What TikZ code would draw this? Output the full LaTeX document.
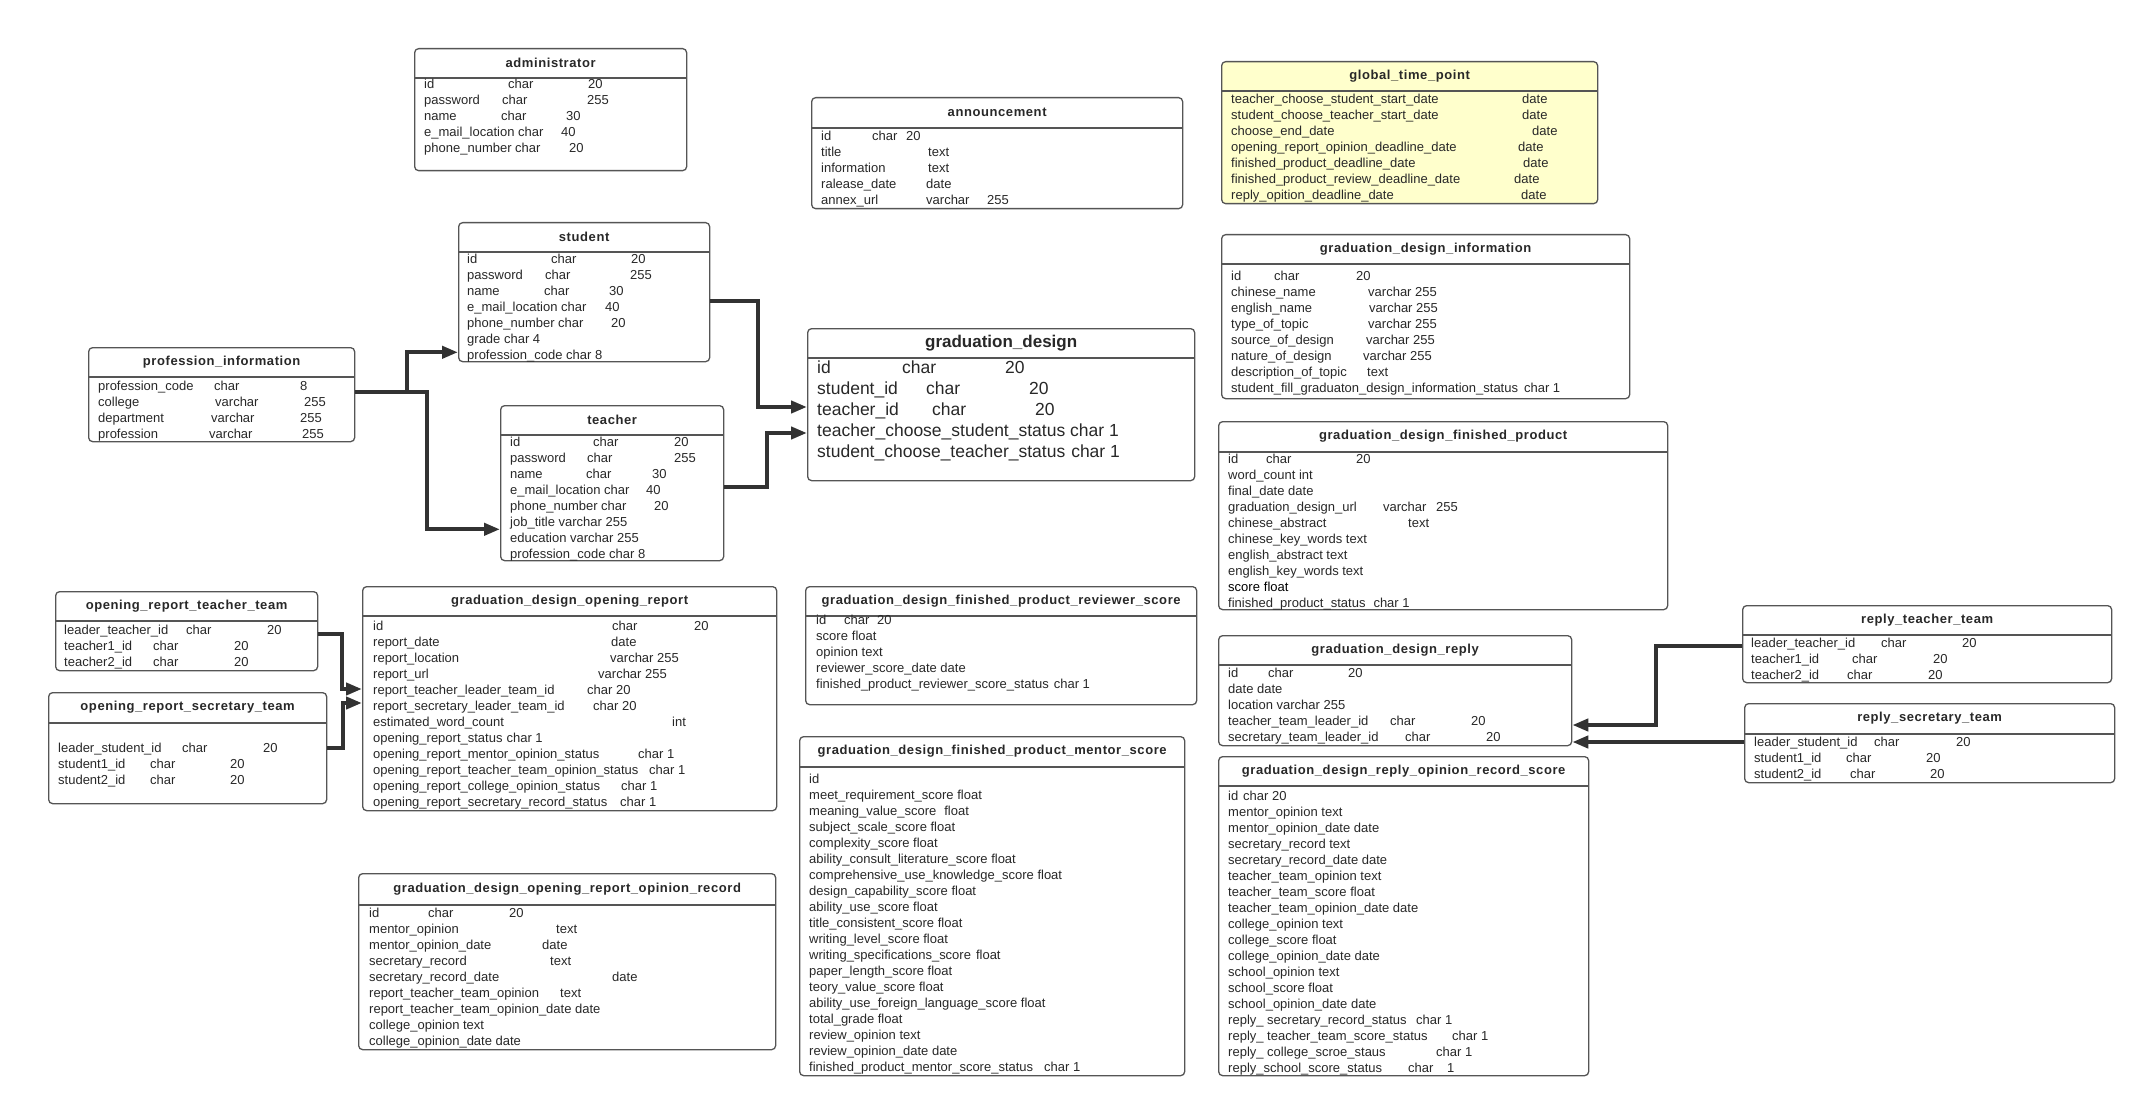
\documentclass[tikz,border=0pt]{standalone}
\usepackage{fontspec}
\setmainfont{Liberation Sans}
\newfontfamily\ttlfont[LetterSpace=4.5]{Liberation Sans}
\usetikzlibrary{arrows.meta}
\newcommand{\fld}[2]{\makebox[#1pt][l]{#2}}

\begin{document}
\begin{tikzpicture}[
  x=1pt,y=-1pt,
  >={Triangle[length=16pt,width=12pt]},
  tbl/.style={draw=boxc,fill=#1,line width=1.3pt,rounded corners=4pt,
    anchor=north west,inner sep=0pt},
  tbl/.default=white,
  hdr/.style={draw=boxc,line width=1.3pt},
  ttl/.style={font=\ttlfont\bfseries\fontsize{13}{16}\selectfont,text=txtc,inner sep=0pt},
  rows/.style={font=\fontsize{13}{16}\selectfont,text=txtc,align=left,
    anchor=north west,inner sep=0pt},
  fk/.style={->,line width=4pt,draw=linec}]

  \definecolor{boxc}{RGB}{85,85,85}
  \definecolor{txtc}{RGB}{40,40,40}
  \definecolor{linec}{RGB}{50,50,50}
  \definecolor{timefill}{RGB}{255,255,204}

  \path[use as bounding box,fill=white] (0,0) rectangle (2146,1107);

  % ---- top row ----
  \node[tbl,minimum width=272pt,minimum height=122pt] (admin) at (414,48) {};
  \draw[hdr] ([yshift=-30]admin.north west) -- ([yshift=-30]admin.north east);
  \node[ttl] (admin-t) at ([yshift=-15]admin.north) {administrator};
  \node[rows] (admin-r) at ([xshift=10,yshift=-31]admin.north west)
    {\fld{84}{id}\fld{80}{char}20\\
     \fld{78}{password}\fld{85}{char}255\\
     \fld{77}{name}\fld{65}{char}30\\
     \fld{137}{e\_mail\_location char}40\\
     \fld{145}{phone\_number char}20};

  \node[tbl,minimum width=371pt,minimum height=111pt] (announce) at (811,97) {};
  \draw[hdr] ([yshift=-31]announce.north west) -- ([yshift=-31]announce.north east);
  \node[ttl] (announce-t) at ([yshift=-15]announce.north) {announcement};
  \node[rows] (announce-r) at ([xshift=10,yshift=-34]announce.north west)
    {\fld{51}{id}\fld{34}{char}20\\
     \fld{107}{title}text\\
     \fld{107}{information}text\\
     \fld{105}{ralease\_date}date\\
     \fld{105}{annex\_url}\fld{61}{varchar}255};

  \node[tbl=timefill,minimum width=376pt,minimum height=142pt] (timept) at (1221,61) {};
  \draw[hdr] ([yshift=-30]timept.north west) -- ([yshift=-30]timept.north east);
  \node[ttl] (timept-t) at ([yshift=-15]timept.north) {global\_time\_point};
  \node[rows] (timept-r) at ([xshift=10,yshift=-33]timept.north west)
    {\fld{291}{teacher\_choose\_student\_start\_date}date\\
     \fld{291}{student\_choose\_teacher\_start\_date}date\\
     \fld{301}{choose\_end\_date}date\\
     \fld{287}{opening\_report\_opinion\_deadline\_date}date\\
     \fld{292}{finished\_product\_deadline\_date}date\\
     \fld{283}{finished\_product\_review\_deadline\_date}date\\
     \fld{290}{reply\_opition\_deadline\_date}date};

  % ---- student / teacher / profession ----
  \node[tbl,minimum width=251pt,minimum height=139pt] (student) at (458,222) {};
  \draw[hdr] ([yshift=-30]student.north west) -- ([yshift=-30]student.north east);
  \node[ttl] (student-t) at ([yshift=-15]student.north) {student};
  \node[rows] (student-r) at ([xshift=9,yshift=-32]student.north west)
    {\fld{84}{id}\fld{80}{char}20\\
     \fld{78}{password}\fld{85}{char}255\\
     \fld{77}{name}\fld{65}{char}30\\
     \fld{138}{e\_mail\_location char}40\\
     \fld{144}{phone\_number char}20\\
     grade char 4\\
     profession\_code char 8};

  \node[tbl,minimum width=266pt,minimum height=94pt] (prof) at (88,347) {};
  \draw[hdr] ([yshift=-30]prof.north west) -- ([yshift=-30]prof.north east);
  \node[ttl] (prof-t) at ([yshift=-15]prof.north) {profession\_information};
  \node[rows] (prof-r) at ([xshift=10,yshift=-34]prof.north west)
    {\fld{116}{profession\_code}\fld{86}{char}8\\
     \fld{117}{college}\fld{89}{varchar}255\\
     \fld{113}{department}\fld{89}{varchar}255\\
     \fld{111}{profession}\fld{93}{varchar}255};

  \node[tbl,minimum width=223pt,minimum height=155pt] (teacher) at (500,405) {};
  \draw[hdr] ([yshift=-30]teacher.north west) -- ([yshift=-30]teacher.north east);
  \node[ttl] (teacher-t) at ([yshift=-15]teacher.north) {teacher};
  \node[rows] (teacher-r) at ([xshift=10,yshift=-32]teacher.north west)
    {\fld{83}{id}\fld{81}{char}20\\
     \fld{77}{password}\fld{87}{char}255\\
     \fld{76}{name}\fld{66}{char}30\\
     \fld{136}{e\_mail\_location char}40\\
     \fld{144}{phone\_number char}20\\
     job\_title varchar 255\\
     education varchar 255\\
     profession\_code char 8};

  \node[tbl,minimum width=387pt,minimum height=152pt] (gd) at (807,328) {};
  \draw[hdr] ([yshift=-30]gd.north west) -- ([yshift=-30]gd.north east);
  \node[ttl,font=\bfseries\fontsize{17}{20}\selectfont] (gd-t) at ([yshift=-15]gd.north)
    {graduation\_design};
  \node[rows,font=\fontsize{17.5}{21}\selectfont] (gd-r) at ([xshift=10,yshift=-33]gd.north west)
    {\fld{85}{id}\fld{103}{char}20\\
     \fld{109}{student\_id}\fld{103}{char}20\\
     \fld{115}{teacher\_id}\fld{103}{char}20\\
     teacher\_choose\_student\_status char 1\\
     student\_choose\_teacher\_status\hspace{6pt}char 1};

  \draw[fk] ([yshift=-45]prof.north east) -- ++(52,0) |- ([yshift=10]student.south west);
  \draw[fk] ([yshift=-45]prof.north east) -- ++(72,0) |- ([yshift=32]teacher.south west);
  \draw[fk] ([yshift=-79]student.north east) -- ++(48,0) |- ([yshift=-79]gd.north west);
  \draw[fk] ([yshift=-82]teacher.north east) -- ++(43,0) |- ([yshift=-105]gd.north west);

  % ---- right column ----
  \node[tbl,minimum width=408pt,minimum height=164pt] (gdinfo) at (1221,234) {};
  \draw[hdr] ([yshift=-30]gdinfo.north west) -- ([yshift=-30]gdinfo.north east);
  \node[ttl] (gdinfo-t) at ([yshift=-15]gdinfo.north) {graduation\_design\_information};
  \node[rows] (gdinfo-r) at ([xshift=10,yshift=-37]gdinfo.north west)
    {\fld{43}{id}\fld{82}{char}20\\
     \fld{137}{chinese\_name}varchar 255\\
     \fld{138}{english\_name}varchar 255\\
     \fld{137}{type\_of\_topic}varchar 255\\
     \fld{135}{source\_of\_design}varchar 255\\
     \fld{132}{nature\_of\_design}varchar 255\\
     \fld{136}{description\_of\_topic}text\\
     student\_fill\_graduaton\_design\_information\_status\hspace{6pt}char 1};

  \node[tbl,minimum width=449pt,minimum height=188pt] (gdfinish) at (1218,421) {};
  \draw[hdr] ([yshift=-31]gdfinish.north west) -- ([yshift=-31]gdfinish.north east);
  \node[ttl] (gdfinish-t) at ([yshift=-15]gdfinish.north) {graduation\_design\_finished\_product};
  \node[rows] (gdfinish-r) at ([xshift=10,yshift=-33]gdfinish.north west)
    {\fld{38}{id}\fld{90}{char}20\\
     word\_count int\\
     final\_date date\\
     \fld{155}{graduation\_design\_url}\fld{53}{varchar}255\\
     \fld{180}{chinese\_abstract}text\\
     chinese\_key\_words text\\
     english\_abstract text\\
     english\_key\_words text\\
     \textcolor{black}{score\hspace{4pt}float}\\
     finished\_product\_status\hspace{8pt}char 1};

  \node[tbl,minimum width=353pt,minimum height=110pt] (reply) at (1218,635) {};
  \draw[hdr] ([yshift=-30]reply.north west) -- ([yshift=-30]reply.north east);
  \node[ttl] (reply-t) at ([yshift=-15]reply.north) {graduation\_design\_reply};
  \node[rows] (reply-r) at ([xshift=10,yshift=-33]reply.north west)
    {\fld{40}{id}\fld{80}{char}20\\
     date date\\
     location varchar 255\\
     \fld{162}{teacher\_team\_leader\_id}\fld{81}{char}20\\
     \fld{177}{secretary\_team\_leader\_id}\fld{81}{char}20};

  \node[tbl,minimum width=370pt,minimum height=319pt] (replyrec) at (1218,756) {};
  \draw[hdr] ([yshift=-30]replyrec.north west) -- ([yshift=-30]replyrec.north east);
  \node[ttl] (replyrec-t) at ([yshift=-15]replyrec.north) {graduation\_design\_reply\_opinion\_record\_score};
  \node[rows] (replyrec-r) at ([xshift=10,yshift=-35]replyrec.north west)
    {\fld{15}{id}char 20\\
     mentor\_opinion text\\
     mentor\_opinion\_date date\\
     secretary\_record text\\
     secretary\_record\_date date\\
     teacher\_team\_opinion text\\
     teacher\_team\_score float\\
     teacher\_team\_opinion\_date date\\
     college\_opinion text\\
     college\_score float\\
     college\_opinion\_date date\\
     school\_opinion text\\
     school\_score float\\
     school\_opinion\_date date\\
     \fld{188}{reply\_ secretary\_record\_status}char 1\\
     \fld{224}{reply\_ teacher\_team\_score\_status}char 1\\
     \fld{208}{reply\_ college\_scroe\_staus}char 1\\
     \fld{180}{reply\_school\_score\_status}\fld{39}{char}1};

  \node[tbl,minimum width=369pt,minimum height=77pt] (rteach) at (1742,605) {};
  \draw[hdr] ([yshift=-30]rteach.north west) -- ([yshift=-30]rteach.north east);
  \node[ttl] (rteach-t) at ([yshift=-15]rteach.north) {reply\_teacher\_team};
  \node[rows] (rteach-r) at ([xshift=9,yshift=-33]rteach.north west)
    {\fld{130}{leader\_teacher\_id}\fld{81}{char}20\\
     \fld{101}{teacher1\_id}\fld{81}{char}20\\
     \fld{96}{teacher2\_id}\fld{81}{char}20};

  \node[tbl,minimum width=370pt,minimum height=79pt] (rsecr) at (1744,703) {};
  \draw[hdr] ([yshift=-31]rsecr.north west) -- ([yshift=-31]rsecr.north east);
  \node[ttl] (rsecr-t) at ([yshift=-15]rsecr.north) {reply\_secretary\_team};
  \node[rows] (rsecr-r) at ([xshift=10,yshift=-34]rsecr.north west)
    {\fld{120}{leader\_student\_id}\fld{82}{char}20\\
     \fld{92}{student1\_id}\fld{80}{char}20\\
     \fld{96}{student2\_id}\fld{80}{char}20};

  \draw[fk] ([yshift=-41]rteach.north west) -- ++(-86,0) |- ([yshift=-90]reply.north east);
  \draw[fk] ([yshift=-39]rsecr.north west) -- ([yshift=-39]rsecr.north west -| reply.east);

  % ---- opening report ----
  \node[tbl,minimum width=262pt,minimum height=79pt] (orteach) at (55,591) {};
  \draw[hdr] ([yshift=-30]orteach.north west) -- ([yshift=-30]orteach.north east);
  \node[ttl] (orteach-t) at ([yshift=-15]orteach.north) {opening\_report\_teacher\_team};
  \node[rows] (orteach-r) at ([xshift=9,yshift=-34]orteach.north west)
    {\fld{122}{leader\_teacher\_id}\fld{81}{char}20\\
     \fld{89}{teacher1\_id}\fld{81}{char}20\\
     \fld{89}{teacher2\_id}\fld{81}{char}20};

  \node[tbl,minimum width=278pt,minimum height=111pt] (orsecr) at (48,692) {};
  \draw[hdr] ([yshift=-31]orsecr.north west) -- ([yshift=-31]orsecr.north east);
  \node[ttl] (orsecr-t) at ([yshift=-15]orsecr.north) {opening\_report\_secretary\_team};
  \node[rows] (orsecr-r) at ([xshift=10,yshift=-51]orsecr.north west)
    {\fld{124}{leader\_student\_id}\fld{81}{char}20\\
     \fld{92}{student1\_id}\fld{80}{char}20\\
     \fld{92}{student2\_id}\fld{80}{char}20};

  \node[tbl,minimum width=414pt,minimum height=224pt] (oreport) at (362,586) {};
  \draw[hdr] ([yshift=-30]oreport.north west) -- ([yshift=-30]oreport.north east);
  \node[ttl] (oreport-t) at ([yshift=-15]oreport.north) {graduation\_design\_opening\_report};
  \node[rows] (oreport-r) at ([xshift=11,yshift=-35]oreport.north west)
    {\fld{239}{id}\fld{82}{char}20\\
     \fld{238}{report\_date}date\\
     \fld{237}{report\_location}varchar 255\\
     \fld{225}{report\_url}varchar 255\\
     \fld{214}{report\_teacher\_leader\_team\_id}char 20\\
     \fld{220}{report\_secretary\_leader\_team\_id}char 20\\
     \fld{299}{estimated\_word\_count}int\\
     opening\_report\_status\hspace{4pt}char 1\\
     \fld{265}{opening\_report\_mentor\_opinion\_status}char 1\\
     \fld{276}{opening\_report\_teacher\_team\_opinion\_status}char 1\\
     \fld{248}{opening\_report\_college\_opinion\_status}char 1\\
     \fld{247}{opening\_report\_secretary\_record\_status}char 1};

  \draw[fk] ([yshift=-43]orteach.north east) -- ++(24,0) |- ([yshift=-103]oreport.north west);
  \draw[fk] ([yshift=-56]orsecr.north east) -- ++(16,0) |- ([yshift=-117]oreport.north west);

  \node[tbl,minimum width=417pt,minimum height=176pt] (orrecord) at (358,873) {};
  \draw[hdr] ([yshift=-32]orrecord.north west) -- ([yshift=-32]orrecord.north east);
  \node[ttl] (orrecord-t) at ([yshift=-16]orrecord.north) {graduation\_design\_opening\_report\_opinion\_record};
  \node[rows] (orrecord-r) at ([xshift=11,yshift=-35]orrecord.north west)
    {\fld{59}{id}\fld{81}{char}20\\
     \fld{187}{mentor\_opinion}text\\
     \fld{173}{mentor\_opinion\_date}date\\
     \fld{181}{secretary\_record}text\\
     \fld{243}{secretary\_record\_date}date\\
     \fld{191}{report\_teacher\_team\_opinion}text\\
     report\_teacher\_team\_opinion\_date date\\
     college\_opinion text\\
     college\_opinion\_date date};

  % ---- scores ----
  \node[tbl,minimum width=391pt,minimum height=118pt] (revscore) at (805,586) {};
  \draw[hdr] ([yshift=-30]revscore.north west) -- ([yshift=-30]revscore.north east);
  \node[ttl] (revscore-t) at ([yshift=-15]revscore.north) {graduation\_design\_finished\_product\_reviewer\_score};
  \node[rows] (revscore-r) at ([xshift=11,yshift=-29]revscore.north west)
    {\fld{28}{id}\fld{33}{char}20\\
     score\hspace{4pt}float\\
     opinion text\\
     reviewer\_score\_date date\\
     finished\_product\_reviewer\_score\_status\hspace{5pt}char 1};

  \node[tbl,minimum width=385pt,minimum height=339pt] (mentscore) at (799,736) {};
  \draw[hdr] ([yshift=-31]mentscore.north west) -- ([yshift=-31]mentscore.north east);
  \node[ttl] (mentscore-t) at ([yshift=-15]mentscore.north) {graduation\_design\_finished\_product\_mentor\_score};
  \node[rows] (mentscore-r) at ([xshift=10,yshift=-38]mentscore.north west)
    {id\\
     meet\_requirement\_score float\\
     meaning\_value\_score\hspace{8pt}float\\
     subject\_scale\_score float\\
     complexity\_score float\\
     ability\_consult\_literature\_score float\\
     comprehensive\_use\_knowledge\_score float\\
     design\_capability\_score float\\
     ability\_use\_score float\\
     title\_consistent\_score float\\
     writing\_level\_score float\\
     writing\_specifications\_score\hspace{5pt}float\\
     paper\_length\_score float\\
     teory\_value\_score float\\
     ability\_use\_foreign\_language\_score float\\
     total\_grade float\\
     review\_opinion text\\
     review\_opinion\_date date\\
     finished\_product\_mentor\_score\_status\hspace{11pt}char 1};
\end{tikzpicture}
\end{document}
